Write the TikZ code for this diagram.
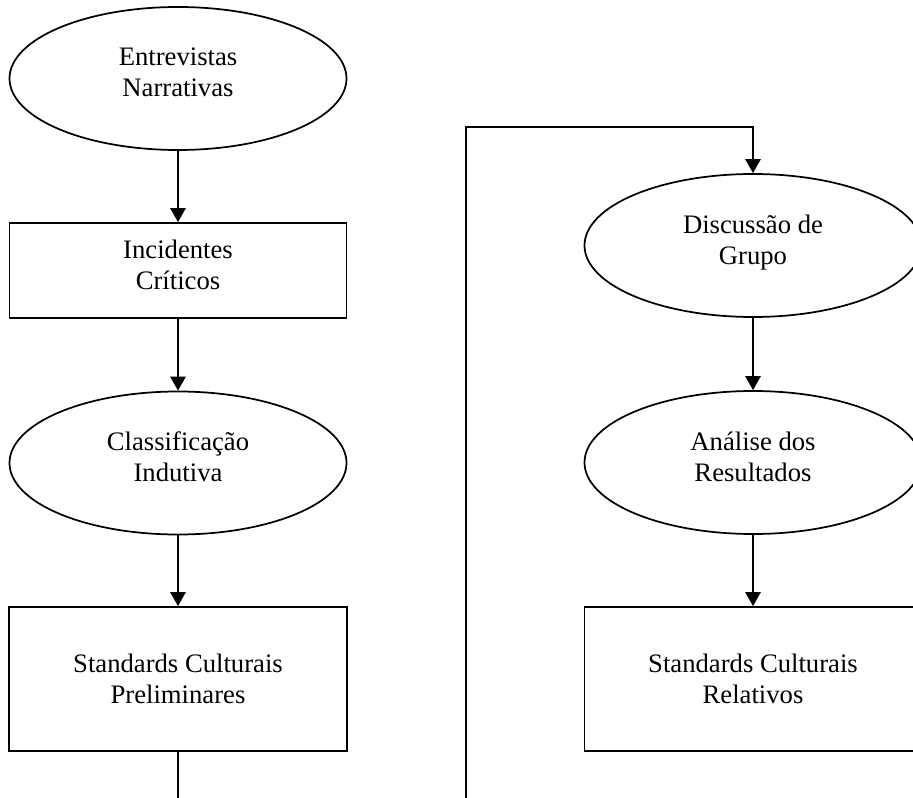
\documentclass[tikz,border=0pt]{standalone}
\usepackage{fontspec}
\setmainfont{Liberation Serif}
\usetikzlibrary{shapes.geometric,arrows.meta}
\begin{document}
\begin{tikzpicture}[x=0.75pt,y=-0.75pt,
  every node/.style={font=\fontsize{20}{23.3}\selectfont,align=center,inner sep=0pt,line width=1.3pt},
  oval/.style={draw,ellipse,minimum width=337*0.75pt,minimum height=143*0.75pt,text depth=9pt},
  box/.style={draw,rectangle},
  conn/.style={line width=1.3pt},
  arr/.style={conn,-{Triangle[length=10.5pt,width=11.5pt]}}]
\useasboundingbox (0,0) rectangle (913,798);
\clip (0,0) rectangle (913,798);
% left column
\node[oval] (entr) at (178,78.5) {Entrevistas\\Narrativas};
\node[box,minimum width=337*0.75pt,minimum height=95*0.75pt,text depth=9pt] (inc) at (178,270.5) {Incidentes\\Críticos};
\node[oval] (cls) at (178,463) {Classificação\\Indutiva};
\node[box,minimum width=338*0.75pt,minimum height=144*0.75pt] (prel) at (178,679) {Standards Culturais\\Preliminares};
\coordinate (lend) at (178,800);
% right column
\node[oval] (disc) at (753,245.5) {Discussão de\\Grupo};
\node[oval] (anal) at (753,462.5) {Análise dos\\Resultados};
\node[box,minimum width=337*0.75pt,minimum height=144*0.75pt] (rel) at (753,679) {Standards Culturais\\Relativos};
\coordinate (lstart) at (466,800);
\coordinate (ltop) at (466,127);
% connectors
\draw[arr] (entr) -- (inc);
\draw[arr] (inc) -- (cls);
\draw[arr] (cls) -- (prel);
\draw[conn] (prel) -- (lend);
\draw[arr] (lstart) -- (ltop) -| (disc.north);
\draw[arr] (disc) -- (anal);
\draw[arr] (anal) -- (rel);
\end{tikzpicture}
\end{document}
